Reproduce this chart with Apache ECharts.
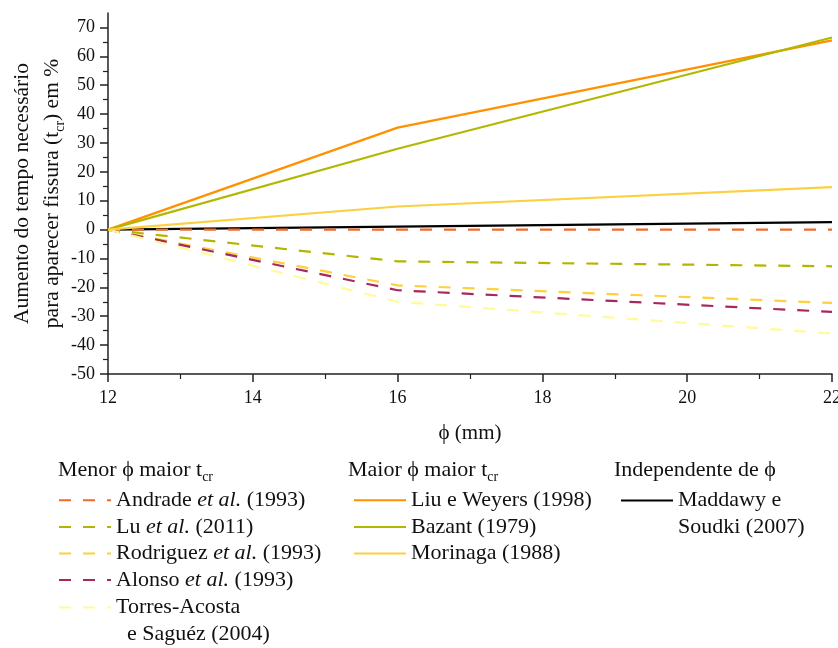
<!DOCTYPE html>
<html>
<head>
<meta charset="utf-8">
<script src="https://cdn.jsdelivr.net/npm/echarts@6/dist/echarts.min.js"></script>
<style>html,body{margin:0;padding:0;background:#fff}#c{width:838px;height:648px}</style>
</head>
<body>
<div id="c"></div>
<script>
// ---- data ----
const diameters = [12, 16, 22];
const andrade   = [0, 0, 0];
const lu        = [0, -11, -12.7];
const rodriguez = [0, -19.3, -25.4];
const alonso    = [0, -21, -28.5];
const torres    = [0, -25, -36];
const liu       = [0, 35.3, 65.5];
const bazant    = [0, 28, 66.5];
const morinaga  = [0, 8, 14.7];
const maddawy   = [0, 1, 2.6];
const yTicks = [-50, -40, -30, -20, -10, 0, 10, 20, 30, 40, 50, 60, 70];
const xTicks = [12, 14, 16, 18, 20, 22];

const FONT = "'Liberation Serif', 'Times New Roman', serif";
const PHI = '\u03D5';
const pair = arr => diameters.map((d, i) => [d, arr[i]]);

const dashedSeries = [
  {name: 'Andrade et al. (1993)', data: andrade, color: '#F06A2B'},
  {name: 'Lu et al. (2011)', data: lu, color: '#B3B600'},
  {name: 'Rodriguez et al. (1993)', data: rodriguez, color: '#FDD03C'},
  {name: 'Alonso et al. (1993)', data: alonso, color: '#A5285F'},
  {name: 'Torres-Acosta\n  e Saguéz (2004)', data: torres, color: '#FFFA9C'}
];
const solidSeries = [
  {name: 'Liu e Weyers (1998)', data: liu, color: '#FF9100'},
  {name: 'Bazant (1979)', data: bazant, color: '#B1B800'},
  {name: 'Morinaga (1988)', data: morinaga, color: '#FBD043'}
];
const indepSeries = [
  {name: 'Maddawy e\nSoudki (2007)', data: maddawy, color: '#000000'}
];

const series = [];
indepSeries.forEach(s => series.push({
  type: 'line', name: s.name, data: pair(s.data), showSymbol: false, symbol: 'none',
  lineStyle: {color: s.color, width: 2.2, type: 'solid'}, itemStyle: {color: s.color}, z: 2
}));
dashedSeries.forEach(s => series.push({
  type: 'line', name: s.name, data: pair(s.data), showSymbol: false, symbol: 'none',
  lineStyle: {color: s.color, width: 2.2, type: [12, 12]}, itemStyle: {color: s.color}, z: 3
}));
solidSeries.forEach(s => series.push({
  type: 'line', name: s.name, data: pair(s.data), showSymbol: false, symbol: 'none',
  lineStyle: {color: s.color, width: 2.2, type: 'solid'}, itemStyle: {color: s.color}, z: 4
}));

const FS = 22, LH = 26.6;
const mkText = pad => ({
  fontFamily: FONT, fontSize: FS, color: '#111', lineHeight: LH, padding: pad,
  rich: {
    n: {fontFamily: FONT, fontSize: FS, color: '#111', lineHeight: LH},
    i: {fontFamily: FONT, fontSize: FS, color: '#111', lineHeight: LH, fontStyle: 'italic'}
  }
});
const fmt = name => name.split('\n').map(l => {
  const k = l.indexOf('et al.');
  if (k < 0) return '{n|' + l + '}';
  return '{n|' + l.slice(0, k) + '}{i|et al.}{n|' + l.slice(k + 6) + '}';
}).join('\n');
// multiline entries: pad the text box on top so the icon sits beside the first line
const mkLegend = (items, left, top, pad) => ({
  show: true, orient: 'vertical', left: left, top: top, height: 240, padding: 0,
  itemWidth: 52, itemHeight: 14, itemGap: 0,
  data: items.map(s => s.name), formatter: fmt, textStyle: mkText(pad),
  selectedMode: false,
  itemStyle: {opacity: 0, color: 'rgba(0,0,0,0)', borderWidth: 0}
});

const headRich = {
  n: {fontFamily: FONT, fontSize: FS, color: '#111', lineHeight: 27, fontWeight: 'normal'},
  sub: {fontFamily: FONT, fontSize: 14, color: '#111', lineHeight: 14, verticalAlign: 'bottom', fontWeight: 'normal'}
};

const option = {
  backgroundColor: '#fff',
  animation: false,
  textStyle: {fontFamily: FONT},
  title: [
    {left: 58, top: 457, padding: 0, text: '{n|Menor ' + PHI + ' maior t}{sub|cr}', textStyle: {fontWeight: 'normal', rich: headRich}},
    {left: 348, top: 457, padding: 0, text: '{n|Maior ' + PHI + ' maior t}{sub|cr}', textStyle: {fontWeight: 'normal', rich: headRich}},
    {left: 614, top: 457, padding: 0, text: '{n|Independente de ' + PHI + '}', textStyle: {fontWeight: 'normal', rich: headRich}}
  ],
  legend: [
    mkLegend(dashedSeries.slice(0, 4), 58, 487, 0),
    mkLegend(dashedSeries.slice(4), 58, 567.5, [LH, 0, 0, 0]),
    mkLegend(solidSeries, 353, 487, 0),
    mkLegend(indepSeries, 620, 460.5, [LH, 0, 0, 0])
  ],
  grid: {left: 108, right: 6, top: 13, bottom: 274, containLabel: false, outerBoundsMode: 'none'},
  xAxis: {
    type: 'value', min: 12, max: 22, interval: 2,
    name: PHI + ' (mm)', nameLocation: 'middle', nameGap: 49, nameMoveOverlap: false,
    nameTextStyle: {fontFamily: FONT, fontSize: 21, color: '#111'},
    axisLine: {show: true, onZero: false, lineStyle: {color: '#222', width: 1.5}},
    axisTick: {show: true, length: 8, lineStyle: {color: '#222', width: 1.5}},
    minorTick: {show: true, splitNumber: 2, length: 5, lineStyle: {color: '#222', width: 1.2}},
    axisLabel: {fontFamily: FONT, fontSize: 18, color: '#111', margin: 15, customValues: xTicks},
    splitLine: {show: false}
  },
  yAxis: {
    type: 'value', min: -50, max: 75, interval: 10,
    name: '{n|Aumento do tempo necessário}\n{n|para aparecer fissura (t}{sub|cr}{n|) em %}',
    nameLocation: 'middle', nameGap: 41, nameMoveOverlap: false,
    nameTextStyle: {
      fontFamily: FONT, fontSize: 21.5, color: '#111', lineHeight: 30,
      rich: {
        n: {fontFamily: FONT, fontSize: 21.5, color: '#111', lineHeight: 30},
        sub: {fontFamily: FONT, fontSize: 14, color: '#111', lineHeight: 16, verticalAlign: 'bottom'}
      }
    },
    axisLine: {show: true, onZero: false, lineStyle: {color: '#222', width: 1.5}},
    axisTick: {show: true, length: 8, lineStyle: {color: '#222', width: 1.5}, customValues: yTicks},
    minorTick: {show: true, splitNumber: 2, length: 5, lineStyle: {color: '#222', width: 1.2}},
    axisLabel: {fontFamily: FONT, fontSize: 18, color: '#111', margin: 13, customValues: yTicks},
    splitLine: {show: false}
  },
  series: series
};

const chart = echarts.init(document.getElementById('c'), null, {renderer: 'canvas'});
chart.setOption(option);
</script>
</body>
</html>
